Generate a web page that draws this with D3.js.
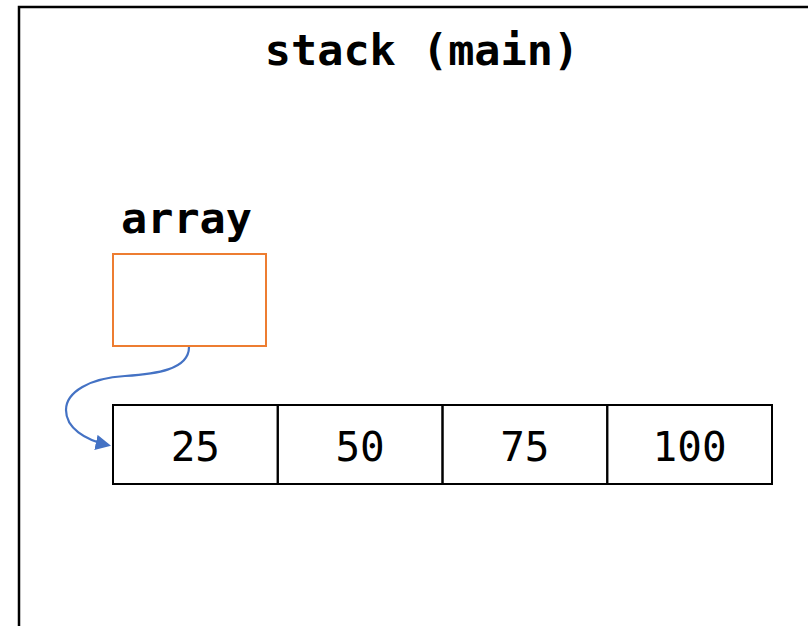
<!DOCTYPE html>
<html>
<head>
<meta charset="utf-8">
<script src="https://cdn.jsdelivr.net/npm/d3@7"></script>
<style>
html,body{margin:0;padding:0;background:#fff;}
svg{display:block;}
</style>
</head>
<body>
<svg id="chart" width="808" height="626"></svg>
<script>
const title = "stack (main)";
const varName = "array";
const values = [25, 50, 75, 100];

const svg = d3.select("#chart");
const mono = "'DejaVu Sans Mono', 'Liberation Mono', monospace";

svg.append("defs").append("marker")
  .attr("id", "ah").attr("viewBox", "0 0 10 10")
  .attr("refX", 8).attr("refY", 5)
  .attr("markerWidth", 7).attr("markerHeight", 7)
  .attr("markerUnits", "strokeWidth")
  .attr("orient", "auto")
  .append("path").attr("d", "M0,0 L10,5 L0,10 z").attr("fill", "#4472C4");

// outer frame
svg.append("rect").attr("x", 19).attr("y", 7).attr("width", 900).attr("height", 800)
  .attr("fill", "none").attr("stroke", "#000").attr("stroke-width", 2.5);

svg.append("text").attr("x", 422).attr("y", 65)
  .attr("text-anchor", "middle").attr("font-family", mono)
  .attr("font-weight", "bold").attr("font-size", 43.5).attr("fill", "#000")
  .text(title);

svg.append("text").attr("x", 121).attr("y", 233)
  .attr("font-family", mono).attr("font-weight", "bold")
  .attr("font-size", 43.5).attr("fill", "#000").text(varName);

svg.append("rect").attr("x", 113).attr("y", 254).attr("width", 153).attr("height", 92)
  .attr("fill", "none").attr("stroke", "#ED7D31").attr("stroke-width", 2);

const x = d3.scaleBand().domain(values.map((d, i) => i)).range([113, 772]).padding(0);
const cells = svg.append("g").selectAll("g").data(values).join("g");
cells.append("rect")
  .attr("x", (d, i) => x(i)).attr("y", 405)
  .attr("width", x.bandwidth()).attr("height", 79)
  .attr("fill", "none").attr("stroke", "#000").attr("stroke-width", 2);
cells.append("text")
  .attr("x", (d, i) => x(i) + x.bandwidth() / 2).attr("y", 461)
  .attr("text-anchor", "middle").attr("font-family", mono)
  .attr("font-size", 41).attr("fill", "#000")
  .text(d => d);

svg.append("path")
  .attr("d", "M189,347 C189,370 155,374 125,376 C90,378 66,392 66,410 C66,428 85,440 108,445")
  .attr("fill", "none").attr("stroke", "#4472C4").attr("stroke-width", 2.2)
  .attr("marker-end", "url(#ah)");
</script>
</body>
</html>
